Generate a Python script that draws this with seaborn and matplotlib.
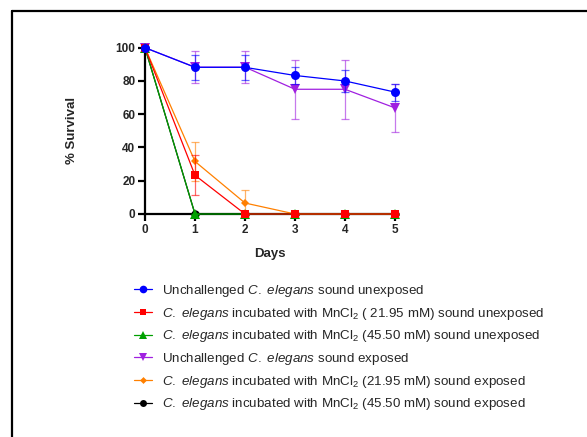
import matplotlib
matplotlib.use("Agg")
import matplotlib.pyplot as plt
from matplotlib.lines import Line2D
import seaborn as sns
import pandas as pd

sns.set_style("white")
plt.rcParams["font.family"] = ["Liberation Sans", "DejaVu Sans"]
plt.rcParams["mathtext.fontset"] = "custom"
plt.rcParams["mathtext.rm"] = "Liberation Sans"
plt.rcParams["mathtext.it"] = "Liberation Sans:italic"
plt.rcParams["mathtext.bf"] = "Liberation Sans:bold"

days = [0, 1, 2, 3, 4, 5]

labels = [
    r"Unchallenged $\it{C.}$ $\it{elegans}$ sound unexposed",
    r"$\it{C.}$ $\it{elegans}$ incubated with MnCl$_2$ ( 21.95 mM) sound unexposed",
    r"$\it{C.}$ $\it{elegans}$ incubated with MnCl$_2$ (45.50 mM) sound unexposed",
    r"Unchallenged $\it{C.}$ $\it{elegans}$ sound exposed",
    r"$\it{C.}$ $\it{elegans}$ incubated with MnCl$_2$ (21.95 mM) sound exposed",
    r"$\it{C.}$ $\it{elegans}$ incubated with MnCl$_2$ (45.50 mM) sound exposed",
]

surv_ctrl_unexp = [100, 88.2, 88.2, 83.3, 80.0, 73.3]
err_ctrl_unexp = [0, 7.7, 7.7, 5.2, 6.6, 5.1]
surv_mn21_unexp = [100, 23.3, 0, 0, 0, 0]
err_mn21_unexp = [0, 12.0, 0, 0, 0, 0]
surv_mn45_unexp = [100, 0, 0, 0, 0, 0]
err_mn45_unexp = [0, 0, 0, 0, 0, 0]
surv_ctrl_exp = [100, 88.3, 88.3, 75.0, 75.0, 63.8]
err_ctrl_exp = [0, 9.7, 9.7, 17.6, 17.6, 14.2]
surv_mn21_exp = [100, 31.6, 6.6, 0, 0, 0]
err_mn21_exp = [0, 11.5, 8.0, 0, 0, 0]
surv_mn45_exp = [100, 0, 0, 0, 0, 0]
err_mn45_exp = [0, 0, 0, 0, 0, 0]

colors = ["#0000ff", "#ff0000", "#00a000", "#a020e0", "#ff8000", "#000000"]
markers = ["o", "s", "^", "v", "D", "o"]
msizes = [6.5, 6.0, 6.5, 6.5, 4.5, 6.0]
series = [surv_ctrl_unexp, surv_mn21_unexp, surv_mn45_unexp,
          surv_ctrl_exp, surv_mn21_exp, surv_mn45_exp]
errors = [err_ctrl_unexp, err_mn21_unexp, err_mn45_unexp,
          err_ctrl_exp, err_mn21_exp, err_mn45_exp]

fig = plt.figure(figsize=(5.87, 4.37), dpi=100)
ax = fig.add_axes([145 / 587, 1 - 214 / 437, 250 / 587, (214 - 47.7) / 437])

# drawing order so the later groups sit on top
order = [5, 4, 3, 2, 1, 0]
z = 3
for i in order:
    df = pd.DataFrame({"Days": days, "Survival": series[i]})
    ax.errorbar(days, series[i], yerr=errors[i], fmt="none", ecolor=colors[i],
                elinewidth=0.9, capsize=3, capthick=0.9, alpha=0.6,
                zorder=z, clip_on=False)
    sns.lineplot(data=df, x="Days", y="Survival", color=colors[i],
                 marker=markers[i], markersize=msizes[i], markeredgewidth=0,
                 linewidth=0.9, ax=ax, zorder=z + 0.5, clip_on=False)
    z += 1

ax.set_xlim(0, 5)
ax.set_ylim(0, 100)
ax.set_xticks(days)
ax.set_yticks([0, 20, 40, 60, 80, 100])
for s in ["top", "right"]:
    ax.spines[s].set_visible(False)
for s in ["left", "bottom"]:
    ax.spines[s].set_linewidth(1.6)
    ax.spines[s].set_color("black")
ax.tick_params(axis="both", direction="out", length=5, width=1.6,
               labelsize=8.5, pad=2, color="black", left=True, bottom=True)
for t in ax.get_xticklabels() + ax.get_yticklabels():
    t.set_fontweight("bold")
ax.set_xlabel("Days", fontsize=9.5, fontweight="bold", labelpad=9)
ax.set_ylabel("% Survival", fontsize=9.5, fontweight="bold", labelpad=27)

handles = [Line2D([0], [0], color=colors[i], marker=markers[i],
                  markersize=msizes[i] - 1, markeredgewidth=0, linewidth=0.9)
           for i in range(6)]
fig.legend(handles, labels, loc="upper left",
           bbox_to_anchor=(134 / 587, 1 - 283 / 437), frameon=False,
           fontsize=9.6, handlelength=1.35, handletextpad=0.75,
           labelspacing=0.5, borderpad=0, borderaxespad=0)

# open frame around the figure
fig.add_artist(Line2D([12 / 587, 12 / 587], [0, 1 - 11 / 437],
                      transform=fig.transFigure, color="black", linewidth=1.6))
fig.add_artist(Line2D([12 / 587, 1], [1 - 11 / 437, 1 - 11 / 437],
                      transform=fig.transFigure, color="black", linewidth=1.6))

fig.savefig("out.png", dpi=100)
